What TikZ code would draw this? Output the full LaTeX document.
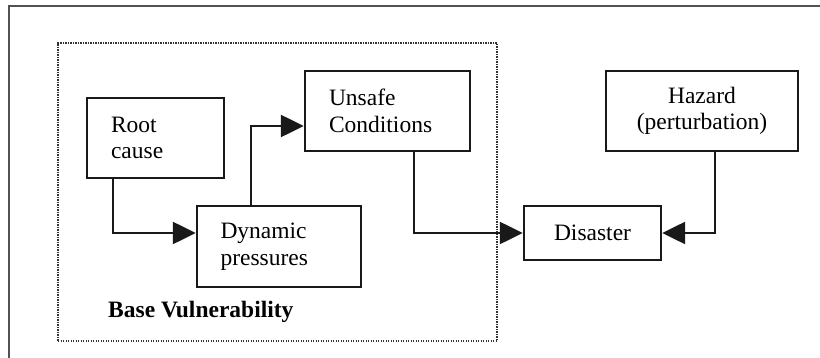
\documentclass[tikz,border=0pt]{standalone}
\usepackage{fontspec}
\setmainfont{Liberation Serif}
\usetikzlibrary{arrows.meta}
\begin{document}
\begin{tikzpicture}[x=1pt,y=-1pt,
  box/.style={draw=black!90, line width=2.4pt, inner sep=0pt, font=\fontsize{23.5}{26.5}\selectfont},
  arr/.style={draw=black!90, line width=2.4pt, -{Triangle[length=23pt,width=22pt]}},
  frame/.style={draw=black!68, line width=2pt},
  dotbox/.style={draw=black!80, line width=1.7pt, dash pattern=on 1.4pt off 1.1pt, inner sep=0pt}]
\useasboundingbox (0,0) rectangle (820,358);
\fill[white] (0,0) rectangle (820,358);
\coordinate (fbl) at (9,359);
\coordinate (ftl) at (9,6);
\coordinate (ftr) at (821,6);
\draw[frame] (fbl) -- (ftl) -- (ftr);
\node[dotbox, minimum width=439pt, minimum height=298pt] (base) at (277.5,192) {};
\node[anchor=base west, font=\bfseries\fontsize{23.5}{26.5}\selectfont, inner sep=0pt] (bv) at (108,318) {Base Vulnerability};
\node[box, minimum width=137pt, minimum height=80pt, text width=89pt, align=left] (root) at (155.5,138) {Root\\cause};
\node[box, minimum width=164pt, minimum height=81pt, text width=117pt, align=left] (dyn) at (279,246.5) {Dynamic\\pressures};
\node[box, minimum width=165pt, minimum height=80pt, text width=117pt, align=left] (uns) at (387.5,111) {Unsafe\\Conditions};
\node[box, minimum width=192pt, minimum height=80pt, text width=170pt, align=center] (haz) at (702,111) {Hazard\\(perturbation)};
\node[box, minimum width=137pt, minimum height=54pt] (dis) at (592.5,233) {Disaster};
\draw[arr] ([xshift=-42.5pt]root.south) |- ([yshift=13.5pt]dyn.west);
\draw[arr] ([xshift=-28pt]dyn.north) |- ([yshift=-15pt]uns.west);
\draw[arr] ([xshift=26.5pt]uns.south) |- (dis.west);
\draw[arr] ([xshift=13pt]haz.south) |- (dis.east);
\end{tikzpicture}
\end{document}
